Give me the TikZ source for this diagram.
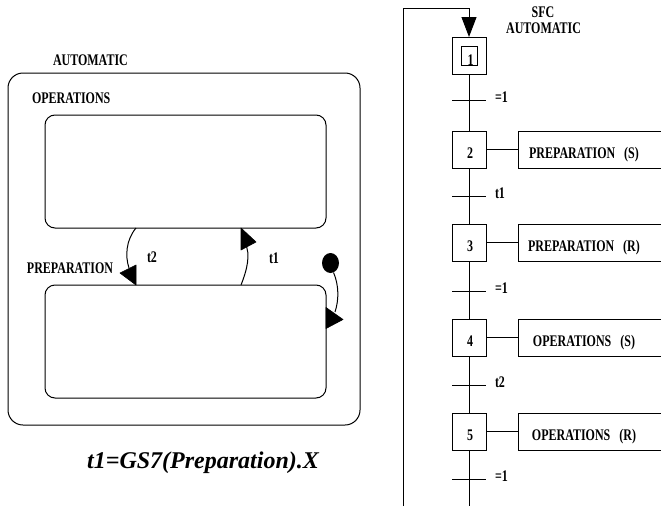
\documentclass[tikz,border=0pt]{standalone}
\usepackage{fontspec}
\setmainfont{Liberation Serif}
\newfontfamily\labfont{Liberation Serif}[FakeStretch=0.74]
\usetikzlibrary{arrows.meta,shapes.geometric}
\tikzset{
  lab/.style={font=\labfont\bfseries\fontsize{16.2}{18}\selectfont, inner sep=0pt, outer sep=0pt},
  labw/.style={lab, anchor=base west},
  labc/.style={lab, anchor=base},
  statebox/.style={draw, rounded corners=10pt, minimum width=281pt, minimum height=113pt, inner sep=0pt, outer sep=0pt},
  stepbox/.style={draw, minimum width=34pt, minimum height=37pt, inner sep=0pt, outer sep=0pt},
  tip/.style={fill=black, draw=black, line width=0.6pt, line join=round},
}
\begin{document}
\begin{tikzpicture}[x=1pt, y=-1pt, line width=1pt]
\useasboundingbox (0,0) rectangle (661,506);

% ---------------- left: statechart ----------------
\node[draw, rounded corners=15pt, minimum width=352pt, minimum height=352pt, inner sep=0pt, outer sep=0pt] (auto) at (184,249) {};
\node[labw] (lauto) at (53,65) {AUTOMATIC};
\node[labw] (lops) at (32,103) {OPERATIONS};
\node[statebox] (ops) at (185.5,171.5) {};
\node[statebox] (prep) at (185.5,341.5) {};
\node[labw] (lprep) at (27,273) {PREPARATION};

% t2 : OPERATIONS -> PREPARATION
\draw ([xshift=-49.5pt]ops.south) .. controls (126,240) and (125,256) .. (129,268);
\fill[tip] ([xshift=-49.5pt]prep.north) -- ++(0,-20) -- ++(-16,8) -- cycle;
\node[labw] (lt2) at (147,262) {t2};

% t1 : PREPARATION -> OPERATIONS
\draw ([xshift=55.5pt]prep.north) .. controls (247,270) and (251,254) .. (245,243);
\fill[tip] ([xshift=55.5pt]ops.south) -- ++(0,22) -- ++(15,-8) -- cycle;
\node[labw] (lt1) at (269,263) {t1};

% initial pseudo state
\node[fill=black, ellipse, minimum width=17pt, minimum height=20pt, inner sep=0pt] (dot) at (330.5,263) {};
\draw (dot.south) ++(3,-1) .. controls (339,285) and (339,300) .. (335,312);
\fill[tip] ([yshift=34pt]prep.east) -- ++(0,21) -- ++(17,-9) -- cycle;

\node[font=\bfseries\itshape\fontsize{24}{26}\selectfont, anchor=base, inner sep=0pt] (cap) at (203,468) {t1=GS7(Preparation).X};

% ---------------- right: SFC ----------------
\node[labc] (lsfc) at (543,17) {SFC};
\node[labc] (lsfc2) at (543.5,33) {AUTOMATIC};

\node[stepbox] (s1) at (469,55.5) {};
\node[draw, minimum width=16pt, minimum height=19pt, inner sep=0pt, outer sep=0pt] (s1in) at (469,55.5) {};
\node[labc] (n1) at (470.5,65) {1};
\node[stepbox] (s2) at (469,149.5) {};
\node[labc] (n2) at (470,158.5) {2};
\node[stepbox] (s3) at (469,242.5) {};
\node[labc] (n3) at (470,251.5) {3};
\node[stepbox] (s4) at (469,337.5) {};
\node[labc] (n4) at (470,346.5) {4};
\node[stepbox] (s5) at (469,431.5) {};
\node[labc] (n5) at (470,440.5) {5};

\coordinate (lb) at (403,506);
\coordinate (lt) at (403,8);
\coordinate (bot) at (469,506);
\draw[-{Triangle[length=20pt,width=15pt]}] (lb) -- (lt) -| (s1.north);

\draw (s1.south) -- (s2.north);
\draw (s2.south) -- (s3.north);
\draw (s3.south) -- (s4.north);
\draw (s4.south) -- (s5.north);
\draw (s5.south) -- (bot);

% transitions
\foreach \y/\t [count=\i] in {100/{=1}, 196/t1, 291/{=1}, 385/t2, 479/{=1}} {
  \coordinate (tr\i) at (469,\y);
  \draw ([xshift=-17pt]tr\i) -- ([xshift=17pt]tr\i);
  \node[labw] (tl\i) at (495,\y+2) {\t};
}

% actions
\foreach \s/\t in {s2/{PREPARATION\hspace{9pt}(S)}, s3/{PREPARATION\hspace{9pt}(R)}, s4/{OPERATIONS\hspace{9pt}(S)}, s5/{OPERATIONS\hspace{9pt}(R)}} {
  \draw (\s.east) -- ([xshift=32pt]\s.east);
  \draw ([xshift=180pt]\s.north east) -| ([xshift=32pt]\s.south east) -- ([xshift=180pt]\s.south east);
  \node[labc] (a\s) at ([xshift=98pt, yshift=-8.5pt]\s.east) {\t};
}
\end{tikzpicture}
\end{document}
